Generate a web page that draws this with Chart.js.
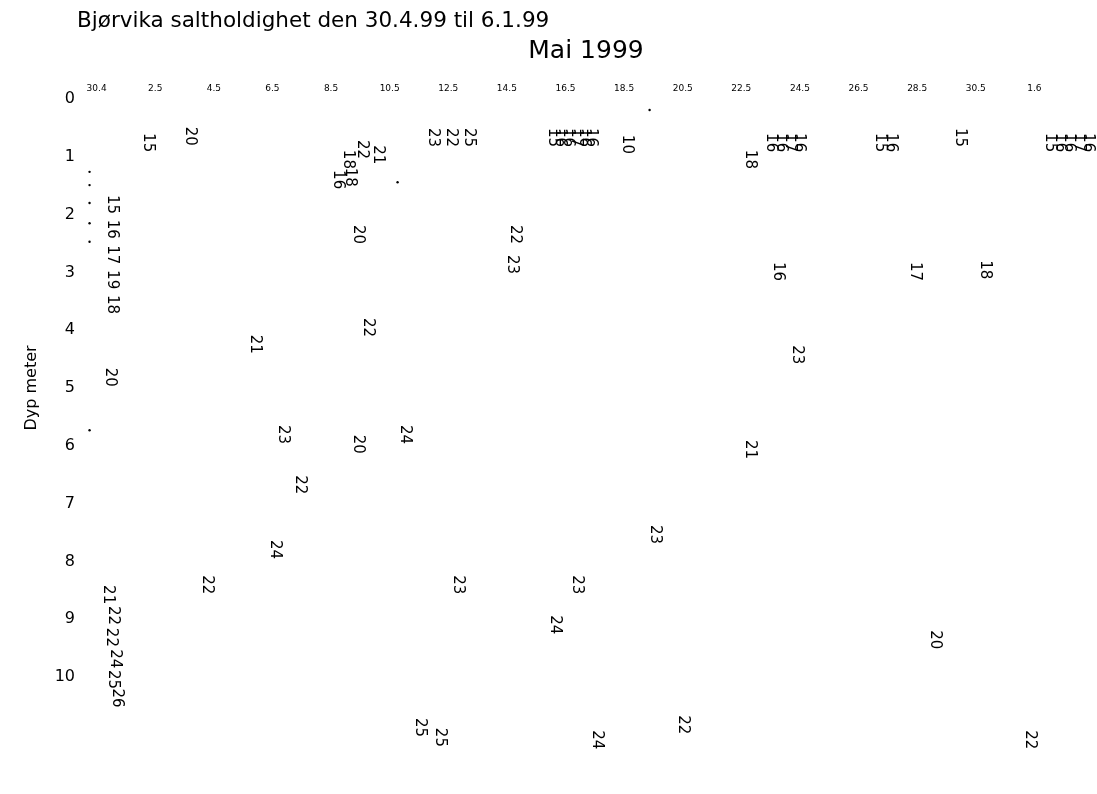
<!DOCTYPE html>
<html>
<head>
<meta charset="utf-8">
<title>Bjørvika saltholdighet</title>
<script src="https://cdn.jsdelivr.net/npm/chart.js@4"></script>
<style>
  body { margin: 0; background: #fff; }
  #wrap { width: 1097px; height: 794px; }
</style>
</head>
<body>
<div id="wrap"><canvas id="saltChart"></canvas></div>
<script>
// Dager etter 30.4 (x), dyp i meter (y) og saltholdighet (tekst)
const sampleDays = [
  1.74, 3.17,
  8.57, 9.04, 9.59, 8.23, 8.63,
  11.47, 12.08, 12.70,
  15.56, 15.80, 16.08, 16.35, 16.62, 16.86,
  18.09,
  22.29, 23.00, 23.34, 23.65, 23.96,
  26.72, 27.10,
  29.45,
  32.53, 32.87, 33.17, 33.52, 33.82,
  0.51, 0.51, 0.51, 0.51, 0.51,
  8.91, 14.27, 14.16, 23.24, 27.92, 30.31,
  9.25, 5.39, 23.89, 0.44,
  6.35, 8.91, 10.51, 22.29,
  6.93, 19.04, 6.08,
  3.75, 12.32, 16.38,
  15.63, 28.60,
  0.40, 0.55, 0.48, 0.62, 0.55, 0.70,
  11.02, 11.71, 17.06, 20.00, 31.84
];
const sampleDepths = [
  0.59, 0.48,
  0.88, 0.71, 0.80, 1.23, 1.19,
  0.50, 0.50, 0.50,
  0.50, 0.50, 0.50, 0.50, 0.50, 0.50,
  0.62,
  0.88, 0.59, 0.59, 0.59, 0.59,
  0.59, 0.59,
  0.50,
  0.59, 0.59, 0.59, 0.59, 0.59,
  1.66, 2.09, 2.53, 2.96, 3.39,
  2.18, 2.18, 2.70, 2.82, 2.82, 2.79,
  3.79, 4.08, 4.26, 4.65,
  5.64, 5.81, 5.64, 5.90,
  6.51, 7.37, 7.63,
  8.24, 8.24, 8.24,
  8.93, 9.19,
  8.41, 8.77, 9.15, 9.52, 9.88, 10.20,
  10.71, 10.88, 10.92, 10.66, 10.92
];
const salinity = [
  15, 20,
  18, 22, 21, 16, 18,
  23, 22, 25,
  15, 16, 16, 17, 16, 16,
  10,
  18, 16, 16, 17, 16,
  15, 16,
  15,
  15, 16, 16, 17, 16,
  15, 16, 17, 19, 18,
  20, 22, 23, 16, 17, 18,
  22, 21, 23, 20,
  23, 20, 24, 21,
  22, 23, 24,
  22, 23, 23,
  24, 20,
  21, 22, 22, 24, 25, 26,
  25, 25, 24, 22, 22
];

// små prikker uten tall
const dotDays = [-0.24, -0.24, -0.24, -0.24, -0.24, -0.24, 10.27, 18.87];
const dotDepths = [1.26, 1.49, 1.80, 2.15, 2.47, 5.73, 1.44, 0.19];

// datoakse
const dateTicks = [0, 2, 4, 6, 8, 10, 12, 14, 16, 18, 20, 22, 24, 26, 28, 30, 32];
const dateLabels = ["30.4", "2.5", "4.5", "6.5", "8.5", "10.5", "12.5", "14.5", "16.5",
  "18.5", "20.5", "22.5", "24.5", "26.5", "28.5", "30.5", "1.6"];
const depthTicks = [0, 1, 2, 3, 4, 5, 6, 7, 8, 9, 10];

const FONT = "'DejaVu Sans', sans-serif";
const TITLE_TEXT = "Bjørvika saltholdighet den 30.4.99 til 6.1.99";

// tegn saltholdighet som loddrett tekst ved hvert punkt
const valueLabels = {
  id: "valueLabels",
  afterDatasetsDraw(chart) {
    const ctx = chart.ctx;
    const meta = chart.getDatasetMeta(0);
    ctx.save();
    ctx.fillStyle = "#000";
    ctx.font = "15px " + FONT;
    ctx.textAlign = "left";
    ctx.textBaseline = "middle";
    meta.data.forEach((pt, i) => {
      ctx.save();
      ctx.translate(pt.x, pt.y);
      ctx.rotate(Math.PI / 2);
      ctx.fillText(String(salinity[i]), 0, 0);
      ctx.restore();
    });
    ctx.restore();
  }
};

// overskrift venstrestilt
const headerText = {
  id: "headerText",
  afterDraw(chart) {
    const ctx = chart.ctx;
    ctx.save();
    ctx.fillStyle = "#000";
    ctx.font = "21.5px " + FONT;
    ctx.textAlign = "left";
    ctx.textBaseline = "middle";
    ctx.fillText(TITLE_TEXT, 77, 21);
    ctx.restore();
  }
};

const labelPoints = sampleDays.map((d, i) => ({ x: d, y: sampleDepths[i] }));
const dotPoints = dotDays.map((d, i) => ({ x: d, y: dotDepths[i] }));

const ctx = document.getElementById("saltChart").getContext("2d");
window.myChart = new Chart(ctx, {
  type: "scatter",
  data: {
    datasets: [
      {
        label: "Saltholdighet",
        data: labelPoints,
        pointRadius: 0,
        pointHoverRadius: 0,
      },
      {
        label: "prikker",
        data: dotPoints,
        pointRadius: 1.2,
        pointBackgroundColor: "#000",
        pointBorderWidth: 0,
      },
    ],
  },
  options: {
    responsive: true,
    maintainAspectRatio: false,
    animation: false,
    layout: { padding: { top: 32, left: 18, right: 3, bottom: 117 } },
    plugins: {
      legend: { display: false },
      tooltip: { enabled: false },
    },
    scales: {
      x: {
        type: "linear",
        position: "top",
        min: -0.6,
        max: 34,
        grid: { display: false, drawTicks: false },
        border: { display: false },
        afterBuildTicks: scale => {
          scale.ticks = dateTicks.map(v => ({ value: v }));
        },
        afterFit: scale => { scale.height = 67; },
        ticks: {
          color: "#000",
          font: { family: FONT, size: 9 },
          padding: 5,
          maxRotation: 0,
          autoSkip: false,
          callback: value => dateLabels[dateTicks.indexOf(value)],
        },
        title: {
          display: true,
          text: "Mai 1999",
          color: "#000",
          font: { family: FONT, size: 25 },
          padding: { top: 4, bottom: 0 },
        },
      },
      y: {
        type: "linear",
        reverse: true,
        min: 0,
        max: 10,
        grid: { display: false, drawTicks: false },
        border: { display: false },
        afterBuildTicks: scale => {
          scale.ticks = depthTicks.map(v => ({ value: v }));
        },
        afterFit: scale => { scale.width = 61; },
        ticks: {
          color: "#000",
          font: { family: FONT, size: 16 },
          padding: 4,
        },
        title: {
          display: true,
          text: "Dyp meter",
          color: "#000",
          font: { family: FONT, size: 16 },
          padding: { top: 4, bottom: 0 },
        },
      },
    },
  },
  plugins: [valueLabels, headerText],
});
</script>
</body>
</html>
